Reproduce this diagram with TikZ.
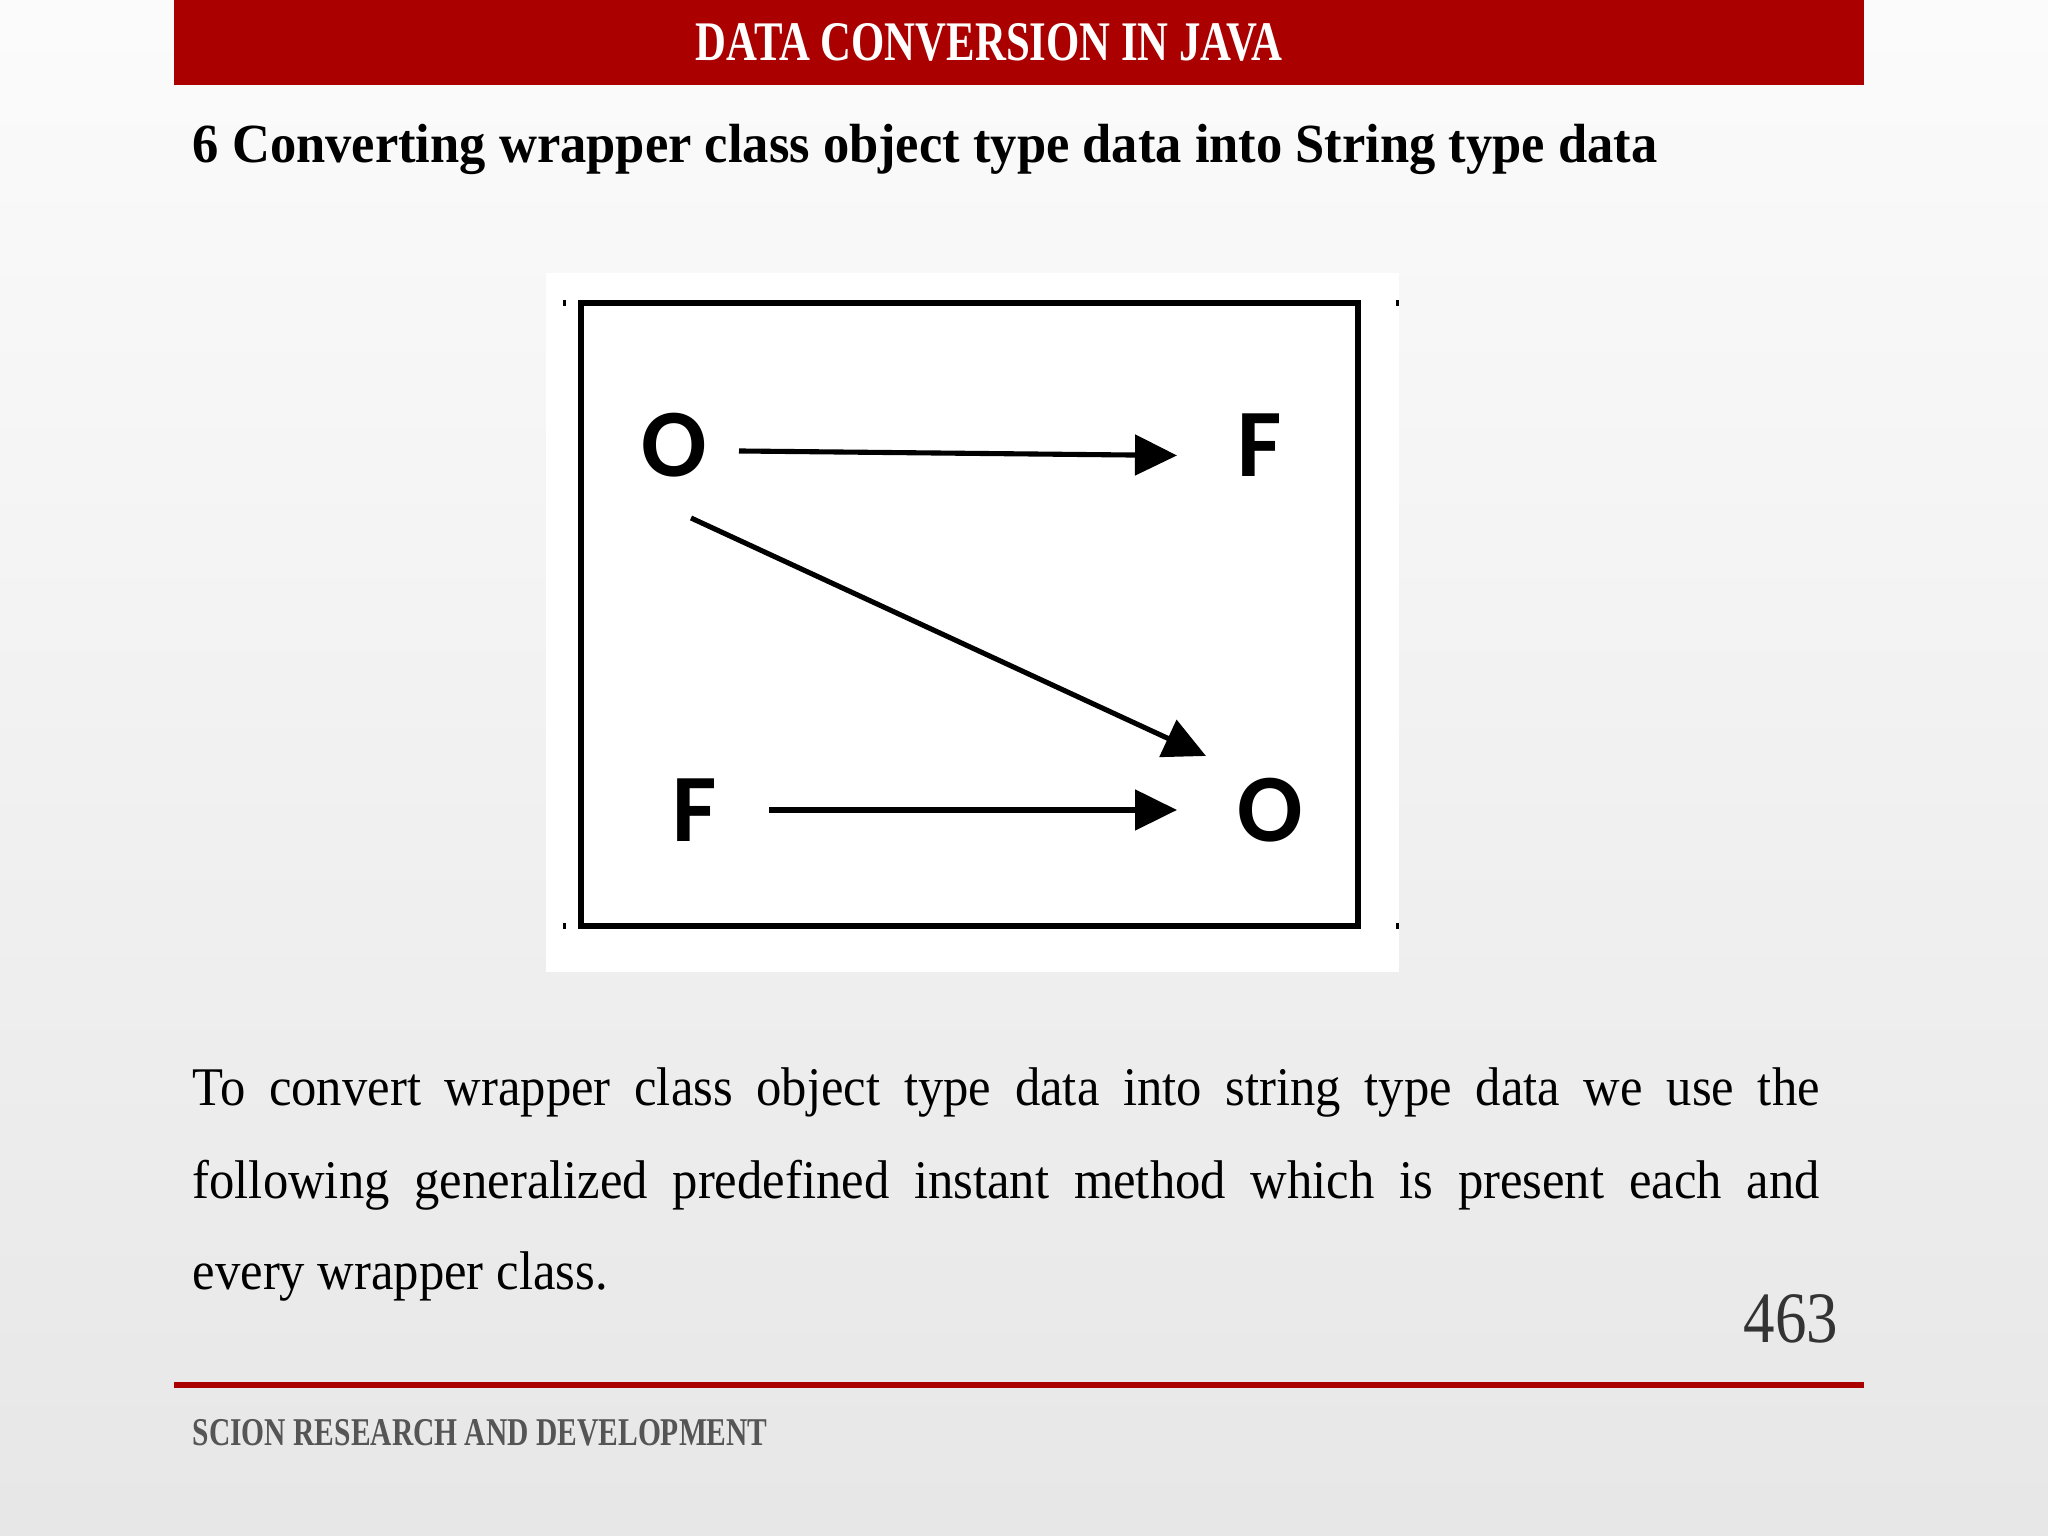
\documentclass[tikz,border=0pt]{standalone}
\usepackage{fontspec}
\setmainfont{Liberation Serif}
\newfontfamily\bodyfont[FakeStretch=0.93]{Liberation Serif}
\newfontfamily\headfont[FakeStretch=0.952]{Liberation Serif}
\newfontfamily\condfont[FakeStretch=0.765]{Liberation Serif}
\newfontfamily\footfont[FakeStretch=0.75]{Liberation Serif}
\newfontfamily\numfont[FakeStretch=0.87]{Liberation Serif}
\newfontfamily\boxfont{Carlito}
\usepackage{xcolor}
\usepackage{tikz}
\usetikzlibrary{
    calc,
    arrows.meta
}
\definecolor{slidered}{RGB}{170,0,0}
\definecolor{footgray}{RGB}{85,85,85}
\definecolor{numgray}{RGB}{51,51,51}
\tikzset{
    letter/.style={font=\boxfont\bfseries\fontsize{27.5}{30}\selectfont, inner sep=0pt},
    conv/.style={line width=1.45pt, -{Triangle[length=4.2mm, width=4mm]}},
    bodyline/.style={anchor=base west, inner sep=0pt, font=\bodyfont\fontsize{15.5}{18}\selectfont}
}

\begin{document}
\begin{tikzpicture}
    \useasboundingbox (0,0) rectangle (20.48,15.36);
    \shade[top color=gray!3, bottom color=gray!19] (0,0) rectangle (20.48,15.36);

    % title bar
    \fill[slidered] (1.74,14.51) rectangle (18.64,15.36);
    \draw (9.89,14.75) node[anchor=base, inner sep=0pt, text=white, font=\condfont\bfseries\fontsize{15.9}{18}\selectfont](title){DATA CONVERSION IN JAVA};

    % heading
    \draw (1.92,13.73) node[anchor=base west, inner sep=0pt, font=\headfont\bfseries\fontsize{15.7}{18}\selectfont](head){6 Converting wrapper class object type data into String type data};

    % diagram
    \begin{scope}
        \fill[white] (5.46,5.64) rectangle (13.99,12.63);
        \draw[line width=1.9pt] (5.81,6.10) rectangle (13.58,12.33);
        \foreach \x in {5.64,13.97}
            \foreach \y in {6.10,12.33}
                \fill (\x-0.015,\y-0.03) rectangle (\x+0.015,\y+0.03);

        \draw (6.746,10.905) node[letter](o1){O};
        \draw (12.60,10.905) node[letter](f1){F};
        \draw (6.95, 7.26)   node[letter](f2){F};
        \draw (12.70,7.26)   node[letter](o2){O};

        \draw[conv] ([shift={(0.644,-0.055)}]o1.center) to ([shift={(-0.83,-0.10)}]f1.center);
        \draw[conv] ([shift={(0.164,-0.725)}]o1.center) to ([shift={(-0.64,0.54)}]o2.center);
        \draw[conv] ([shift={(0.74,0)}]f2.center) to ([shift={(-0.93,0)}]o2.center);
    \end{scope}

    % body text
    \draw (1.92,4.30) node[bodyline](line1){\makebox[16.27cm][s]{To convert wrapper class object type data into string type data we use the}};
    \draw (1.92,3.37) node[bodyline](line2){\makebox[16.27cm][s]{following generalized predefined instant method which is present each and}};
    \draw (1.92,2.46) node[bodyline](line3){every wrapper class.};

    % page number, rule and footer
    \draw (18.39,1.93) node[anchor=base east, inner sep=0pt, text=numgray, font=\numfont\fontsize{20.6}{24}\selectfont](page){463};
    \draw[slidered, line width=1.85pt] (1.74,1.51) -- (18.64,1.51);
    \draw (1.92,0.90) node[anchor=base west, inner sep=0pt, text=footgray, font=\footfont\bfseries\fontsize{11.2}{13}\selectfont](foot){SCION RESEARCH AND DEVELOPMENT};
\end{tikzpicture}
\end{document}
